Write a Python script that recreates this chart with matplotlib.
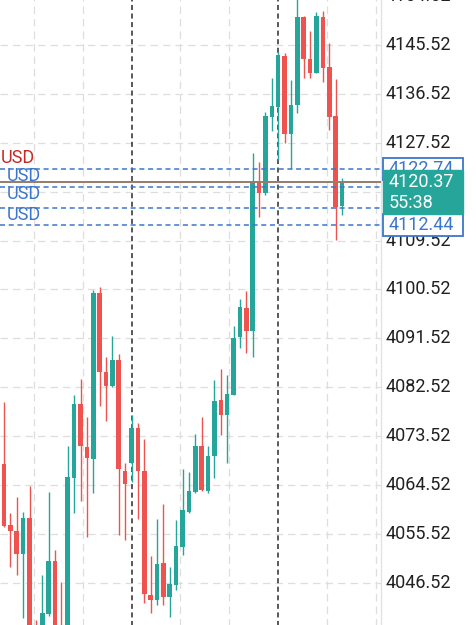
import matplotlib
matplotlib.use("Agg")
import matplotlib.pyplot as plt
from matplotlib.patches import Rectangle
from matplotlib.transforms import blended_transform_factory
import numpy as np

plt.rcParams['font.family'] = ['Roboto', 'DejaVu Sans']

# candles (oldest -> newest)
opens = [4068.40, 4057.17, 4056.07, 4051.84, 4058.46, 4038.22, 4037.48, 4040.79, 4050.55, 4037.85,
         4037.85, 4065.83, 4079.44, 4071.53, 4069.32, 4099.87, 4085.33, 4082.76, 4087.54, 4067.11,
         4068.59, 4075.03, 4067.11, 4044.29, 4043.37, 4050.18, 4043.92, 4046.13, 4053.13, 4059.57,
         4063.25, 4071.71, 4063.43, 4069.88, 4080.18, 4077.42, 4081.10, 4091.78, 4097.11, 4092.88,
         4120.49, 4118.28, 4132.27, 4134.11, 4143.49, 4129.14, 4134.48, 4150.67, 4142.94, 4140.37,
         4150.67, 4141.47, 4132.45, 4115.89]
closes = [4056.99, 4056.07, 4051.84, 4058.46, 4036.01, 4036.38, 4040.98, 4050.55, 4038.22, 4036.01,
          4066.01, 4079.44, 4071.71, 4069.51, 4099.87, 4085.33, 4082.76, 4087.54, 4067.48, 4064.72,
          4075.03, 4067.11, 4044.47, 4043.37, 4050.00, 4043.92, 4046.32, 4053.31, 4059.94, 4063.43,
          4071.71, 4063.62, 4069.88, 4079.99, 4077.42, 4081.29, 4091.59, 4097.30, 4092.88, 4120.49,
          4118.28, 4132.45, 4134.29, 4143.68, 4129.14, 4134.48, 4150.67, 4142.94, 4140.37, 4150.86,
          4141.29, 4132.27, 4115.70, 4120.37]
highs = [4079.81, 4059.38, 4062.33, 4059.57, 4064.35, 4039.69, 4047.97, 4063.25, 4052.57, 4046.68,
         4071.71, 4081.10, 4084.05, 4077.05, 4100.43, 4100.98, 4088.09, 4091.96, 4088.65, 4068.59,
         4077.42, 4075.95, 4073.00, 4051.47, 4058.28, 4061.04, 4049.44, 4058.10, 4067.48, 4066.93,
         4073.92, 4077.05, 4071.71, 4083.86, 4085.89, 4084.78, 4093.80, 4098.77, 4100.24, 4125.64,
         4123.99, 4133.19, 4139.45, 4144.23, 4144.05, 4139.08, 4154.72, 4150.86, 4148.10, 4151.59,
         4151.78, 4145.89, 4139.26, 4121.04]
lows = [4056.81, 4049.44, 4047.97, 4040.06, 4034.17, 4035.09, 4036.01, 4040.43, 4036.93, 4035.09,
        4036.01, 4059.38, 4061.59, 4054.97, 4063.06, 4079.08, 4076.32, 4082.57, 4055.34, 4054.42,
        4065.09, 4058.28, 4042.82, 4040.98, 4042.45, 4042.45, 4040.24, 4045.21, 4051.65, 4059.38,
        4063.06, 4063.43, 4063.06, 4065.83, 4073.74, 4068.59, 4081.10, 4089.75, 4088.83, 4088.10,
        4113.86, 4117.91, 4129.69, 4124.35, 4127.48, 4122.70, 4133.00, 4139.45, 4139.45, 4140.37,
        4138.71, 4129.87, 4109.63, 4114.23]

price_ticks = [4154.52, 4145.52, 4136.52, 4127.52, 4118.52, 4109.52, 4100.52, 4091.52,
               4082.52, 4073.52, 4064.52, 4055.52, 4046.52]
order_levels = [4122.74, 4119.40, 4115.52, 4112.44]
order_labels = ['USD', 'USD', 'USD']
red_label_price = 4124.72
current_price = 4120.37
countdown = '55:38'
box_prices = [4122.74, 4112.44]
session_breaks = [20, 43]

GREEN = '#26a69a'
RED = '#ef5350'
BLUE = '#3a76cc'

fig = plt.figure(figsize=(4.76, 6.25), dpi=100)
ax = fig.add_axes([0, 0, 1, 1])
ax.set_xlim(-0.627, 74.02)
ax.set_ylim(4038.77, 4153.80)
ax.axis('off')
tr = blended_transform_factory(ax.transAxes, ax.transData)

x0, x1 = -0.627, 59.12   # chart area in candle units

# grid
ax.hlines(price_ticks, x0, x1, colors='#dedede', lw=0.9, linestyles=(0, (6, 4)), zorder=0)
step = (session_breaks[1] - session_breaks[0]) / 3
gx = [session_breaks[0] + k * step for k in range(-2, 6) if k not in (0, 3)]
ax.vlines(gx, 4030, 4160, colors='#dedede', lw=0.9, linestyles=(0, (6, 4)), zorder=0)
ax.vlines(session_breaks, 4030, 4160, colors='#2b2b2b', lw=1.1, linestyles=(0, (3.3, 2.3)), zorder=1)
ax.vlines([x1], 4030, 4160, colors='#e3e3e3', lw=1, zorder=1)

# candles
idx = np.arange(len(opens))
o = np.array(opens)
c = np.array(closes)
cols = [GREEN if cc >= oo else RED for oo, cc in zip(o, c)]
ax.vlines(idx, lows, highs, colors=cols, lw=1.0, zorder=3)
ax.bar(idx, np.maximum(np.abs(c - o), 0.3), bottom=np.minimum(o, c), width=0.72,
       color=cols, linewidth=0, zorder=4)

# order lines + labels
ax.hlines(order_levels, x0, x1, colors=BLUE, lw=1.1, linestyles=(0, (3.3, 2.4)), zorder=5)
ax.hlines([current_price], x0, x1, colors='#9a7b6c', lw=1.4, zorder=5)
for lv, lab in zip(order_levels, order_labels):
    ax.text(0.4, lv + 0.35, lab, color=BLUE, fontsize=13, ha='left', va='top', zorder=6)
ax.text(-0.45, red_label_price, 'USD', color='#c62828', fontsize=13, ha='left', va='center', zorder=6)

# price axis labels
for p in price_ticks:
    ax.text(0.809, p, '%.2f' % p, transform=tr, fontsize=13, color='#212121',
            ha='left', va='center', zorder=2)

# price boxes
bx, bw = 0.805, 0.168
for p in box_prices:
    ax.add_patch(Rectangle((bx, p - 2.0), bw, 4.0, transform=tr, facecolor='white',
                           edgecolor=BLUE, lw=1.3, zorder=7))
    ax.text(0.817, p, '%.2f' % p, transform=tr, fontsize=13, color=BLUE,
            ha='left', va='center', zorder=8)
ax.add_patch(Rectangle((bx, current_price - 5.95), bw, 8.1, transform=tr, facecolor=GREEN,
                       edgecolor=GREEN, lw=1, zorder=9))
ax.text(0.817, current_price, '%.2f' % current_price, transform=tr, fontsize=13, color='white',
        ha='left', va='center', zorder=10)
ax.text(0.817, current_price - 3.9, countdown, transform=tr, fontsize=13, color='white',
        ha='left', va='center', zorder=10)

fig.savefig('out.png', dpi=100)
